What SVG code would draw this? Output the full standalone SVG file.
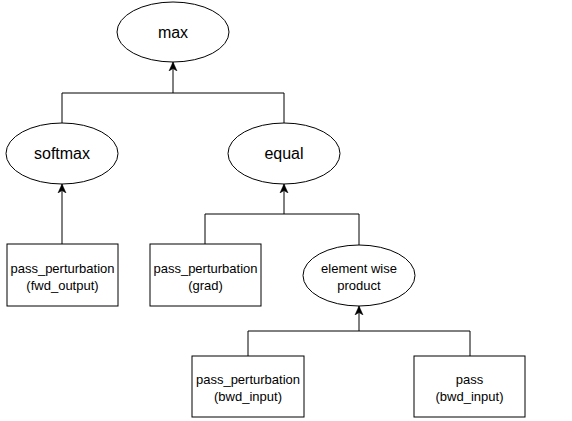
<svg xmlns="http://www.w3.org/2000/svg" width="572" height="421" viewBox="0 0 572 421">
<style>
.n{fill:#fff;stroke:#000;stroke-width:1}
.c{fill:none;stroke:#000;stroke-width:1}
.t16{font-family:"Liberation Sans",Arial,sans-serif;font-size:16px;text-anchor:middle;fill:#000}
.t13{font-family:"Liberation Sans",Arial,sans-serif;font-size:13px;text-anchor:middle;fill:#000}
</style>
<defs>
<marker id="a" viewBox="0 0 10 10" refX="9" refY="5" markerWidth="10" markerHeight="10" markerUnits="userSpaceOnUse" orient="auto">
<path d="M0,1 L9,5 L0,9 L2.5,5 Z" fill="#000" stroke="#000" stroke-width="0.5"/>
</marker>
</defs>
<g id="connectors">
<path class="c" d="M62,123 V93 H284 V123"/>
<path class="c" d="M173,93 V62" marker-end="url(#a)"/>
<path class="c" d="M62,244 V184" marker-end="url(#a)"/>
<path class="c" d="M205,244 V214 H359 V245"/>
<path class="c" d="M284,214 V184" marker-end="url(#a)"/>
<path class="c" d="M248,356 V331 H470 V356"/>
<path class="c" d="M359,331 V306" marker-end="url(#a)"/>
</g>
<g id="max"><ellipse class="n" cx="173" cy="32" rx="56" ry="30"/><text class="t16" x="173" y="38">max</text></g>
<g id="softmax"><ellipse class="n" cx="62" cy="153.5" rx="56" ry="30.5"/><text class="t16" x="62" y="159">softmax</text></g>
<g id="equal"><ellipse class="n" cx="284" cy="153.5" rx="56" ry="30.5"/><text class="t16" x="284" y="159">equal</text></g>
<g id="fwd_output"><rect class="n" x="7" y="244" width="111" height="62"/><text class="t13" x="62.5" y="272.5">pass_perturbation</text><text class="t13" x="62.5" y="289.5">(fwd_output)</text></g>
<g id="grad"><rect class="n" x="150" y="244" width="111" height="62"/><text class="t13" x="205.5" y="272.5">pass_perturbation</text><text class="t13" x="205.5" y="289.5">(grad)</text></g>
<g id="product"><ellipse class="n" cx="359" cy="275.5" rx="56" ry="30.5"/><text class="t13" x="359" y="272.5">element wise</text><text class="t13" x="359" y="289.5">product</text></g>
<g id="bwd_input_pert"><rect class="n" x="192" y="356" width="112" height="61"/><text class="t13" x="248" y="384">pass_perturbation</text><text class="t13" x="248" y="401">(bwd_input)</text></g>
<g id="bwd_input_pass"><rect class="n" x="414" y="356" width="111" height="61"/><text class="t13" x="469.5" y="384">pass</text><text class="t13" x="469.5" y="401">(bwd_input)</text></g>
</svg>
